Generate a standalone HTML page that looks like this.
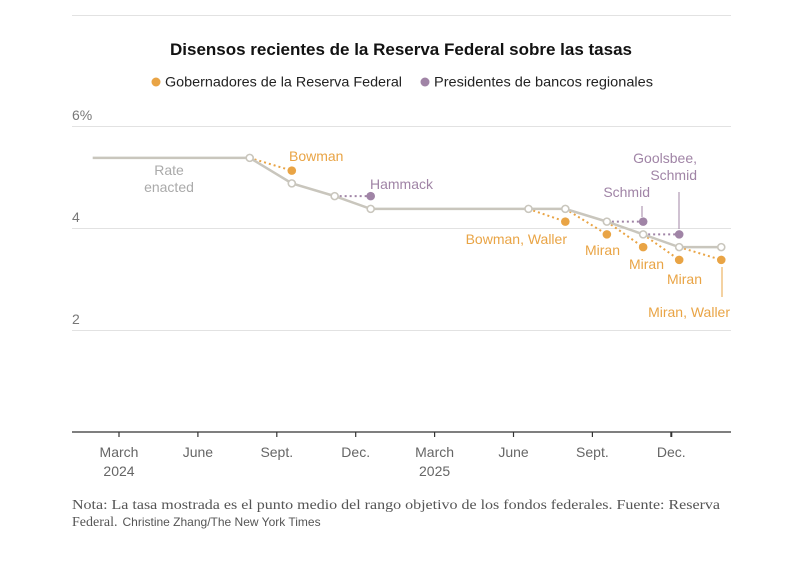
<!DOCTYPE html>
<html><head><meta charset="utf-8"><style>
body{margin:0;background:#fff;font-family:"Liberation Sans",sans-serif;}
svg text{font-family:"Liberation Sans",sans-serif;}
svg text.serif{font-family:"Liberation Serif",serif;}
</style></head><body>
<svg id="chart" width="812" height="559" viewBox="0 0 812 559" xmlns="http://www.w3.org/2000/svg">
<line x1="72" y1="15.5" x2="731" y2="15.5" stroke="#e2e2e2" stroke-width="1"/>
<text x="401" y="55" text-anchor="middle" font-size="17" font-weight="bold" fill="#121212" textLength="462" lengthAdjust="spacingAndGlyphs">Disensos recientes de la Reserva Federal sobre las tasas</text>
<g>
<circle cx="156" cy="82" r="4.5" fill="#e9a445"/>
<text x="165" y="86.5" font-size="14" fill="#222" textLength="237" lengthAdjust="spacingAndGlyphs">Gobernadores de la Reserva Federal</text>
<circle cx="425" cy="82" r="4.5" fill="#a084a6"/>
<text x="434" y="86.5" font-size="14" fill="#222" textLength="219" lengthAdjust="spacingAndGlyphs">Presidentes de bancos regionales</text>
</g>
<g id="grid"></g>
<g id="xaxis"></g>
<g id="marks"></g>
<g id="labels"></g>
<text class="serif" x="72" y="509" font-size="14" fill="#555" textLength="648" lengthAdjust="spacingAndGlyphs">Nota: La tasa mostrada es el punto medio del rango objetivo de los fondos federales.  Fuente: Reserva</text>
<text class="serif" x="72" y="526" font-size="14" fill="#555">Federal.<tspan font-family="Liberation Sans, sans-serif" font-size="12" dx="5">Christine Zhang/The New York Times</tspan></text>
</svg>
<script>
const yTicks = [6, 4, 2];
const yTickLabels = ["6%", "4", "2"];
const xTickMonths = [2, 5, 8, 11, 14, 17, 20, 23];
const xTickLabels = ["March", "June", "Sept.", "Dec.", "March", "June", "Sept.", "Dec."];
const xTickYears = ["2024", "", "", "", "2025", "", "", ""];
// months since Jan 2024 (fractional)
const rateDates = [1.0, 6.97, 8.57, 10.2, 11.57, 17.57, 18.97, 20.55, 21.93, 23.3, 24.9];
const rateValues = [5.375, 5.375, 4.875, 4.625, 4.375, 4.375, 4.375, 4.125, 3.875, 3.625, 3.625];
const rateMeetingFlags = [0, 1, 1, 1, 1, 1, 1, 1, 1, 1, 1];
const dissentFromIdx = [1, 3, 5, 6, 7, 7, 8, 8, 9];
const dissentToIdx = [2, 4, 6, 7, 8, 8, 9, 9, 10];
const dissentValues = [5.125, 4.625, 4.125, 3.875, 3.625, 4.125, 3.375, 3.875, 3.375];
const dissentGroup = ["gov", "pres", "gov", "gov", "gov", "pres", "gov", "pres", "gov"];

const NS = "http://www.w3.org/2000/svg";
const X0 = 72, X1 = 731;
function xScale(m){ return 119 + (m - 2) * 26.3; }
function yScale(v){ return 432 - v * 51; }
const COL = {gov:"#e9a445", pres:"#a084a6"};
function mk(tag, attrs, parent){
  const e = document.createElementNS(NS, tag);
  for (const k in attrs) e.setAttribute(k, attrs[k]);
  parent.appendChild(e); return e;
}
const grid = document.getElementById('grid');
yTicks.forEach((v,i)=>{
  const l = mk('line',{x1:X0,x2:X1,y1:yScale(v)+0.5,y2:yScale(v)+0.5,stroke:'#e2e2e2','stroke-width':1},grid);
  
  
  const t = mk('text',{x:X0,y:yScale(v)-6,'font-size':14,fill:'#777'},grid);
  t.textContent = yTickLabels[i];
  
  
});
const xa = document.getElementById('xaxis');
const ax = mk('line',{x1:X0,x2:X1,y1:432,y2:432,stroke:'#333','stroke-width':1.3},xa);


xTickMonths.forEach((m,i)=>{
  const x = xScale(m);
  const tk = mk('line',{x1:x,x2:x,y1:432,y2:437,stroke:'#333','stroke-width':i===xTickMonths.length-1?2:1.2},xa);
  
  
  const t = mk('text',{x:x,y:457,'text-anchor':'middle','font-size':14,fill:'#666'},xa);
  t.textContent = xTickLabels[i];
  
  
  if (xTickYears[i]) {
    const y = mk('text',{x:x,y:476,'text-anchor':'middle','font-size':14,fill:'#666'},xa);
    y.textContent = xTickYears[i];
    
    
  }
});
const marks = document.getElementById('marks');
dissentFromIdx.forEach((fi,i)=>{
  const ti = dissentToIdx[i];
  const l = mk('line',{x1:xScale(rateDates[fi]),y1:yScale(rateValues[fi]),x2:xScale(rateDates[ti]),y2:yScale(dissentValues[i]),stroke:COL[dissentGroup[i]],'stroke-width':2,'stroke-dasharray':'2 3'},marks);
  
  
});
const pts = rateDates.map((d,i)=>xScale(d)+','+yScale(rateValues[i])).join(' ');
const rl = mk('polyline',{points:pts,fill:'none',stroke:'#c9c6bd','stroke-width':2.5},marks);


rateDates.forEach((d,i)=>{
  if (!rateMeetingFlags[i]) return;
  const c = mk('circle',{cx:xScale(d),cy:yScale(rateValues[i]),r:3.5,fill:'#fff',stroke:'#c9c6bd','stroke-width':1.6},marks);
  
  
});
dissentFromIdx.forEach((fi,i)=>{
  const c = mk('circle',{cx:xScale(rateDates[dissentToIdx[i]]),cy:yScale(dissentValues[i]),r:4.3,fill:COL[dissentGroup[i]]},marks);
  
  
});
const lab = document.getElementById('labels');
function label(lines, x, y, anchor, color, name){
  const t = mk('text',{x:x,y:y,'text-anchor':anchor,'font-size':14,fill:color},lab);
  lines.forEach((s,j)=>{ const ts = mk('tspan',{x:x,dy:j?17:0},t); ts.textContent = s; });
  
  
}
function leader(x,y1,y2,color){
  const l = mk('line',{x1:x,x2:x,y1:y1,y2:y2,stroke:color,'stroke-width':1},lab);
  
  
}
label(["Rate","enacted"],169,175,'middle','#aaa','rate-enacted-label');
label(["Bowman"],289,161,'start','#e9a445','label-bowman');
label(["Hammack"],370,189,'start','#a084a6','label-hammack');
label(["Bowman, Waller"],567,244,'end','#e9a445','label-bowman-waller');
label(["Schmid"],650,197,'end','#a084a6','label-schmid');
leader(642,206,217,'#a084a6');
label(["Goolsbee,","Schmid"],697,163,'end','#a084a6','label-goolsbee-schmid');
leader(679,192,229,'#a084a6');
label(["Miran"],620,255,'end','#e9a445','label-miran-sept');
label(["Miran"],664,269,'end','#e9a445','label-miran-oct');
label(["Miran"],702,284,'end','#e9a445','label-miran-dec');
label(["Miran, Waller"],730,317,'end','#e9a445','label-miran-waller');
leader(722,267,297,'#e9a445');
</script>
</body></html>
